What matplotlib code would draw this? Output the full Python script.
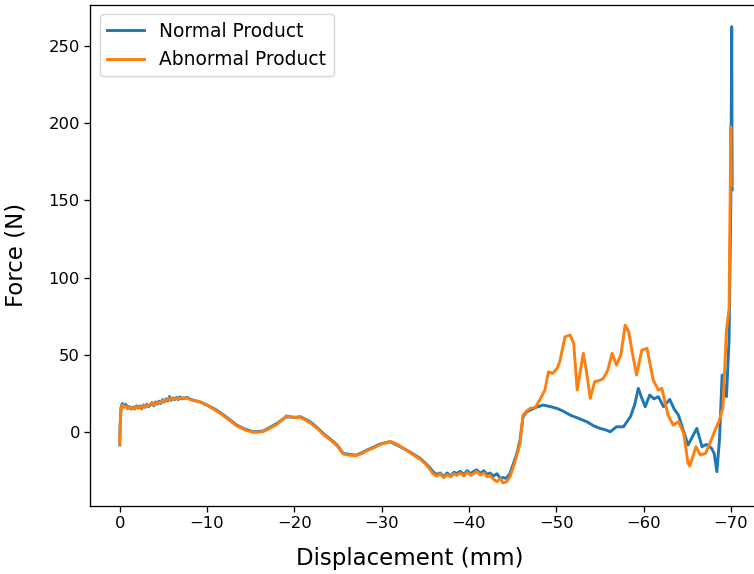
import matplotlib.pyplot as plt

# displacement (mm) / force (N)
normal_x = [0.0, -0.05, -0.15, -0.3, -0.5, -0.7, -0.9, -1.1, -1.3, -1.5, -1.7, -1.9, -2.1, -2.3,
            -2.5, -2.7, -2.9, -3.1, -3.3, -3.5, -3.7, -3.9, -4.1, -4.3, -4.5, -4.7, -4.9, -5.1,
            -5.3, -5.5, -5.7, -5.9, -6.1, -6.3, -6.5, -6.7, -6.9, -7.1, -7.3, -7.5, -7.7, -8.0,
            -8.4, -9.2, -10.0, -11.0, -11.9, -12.6,
            -13.4, -14.3, -15.3, -16.4, -17.2, -18.0, -19.1, -20.0, -20.7, -21.8, -22.6, -23.3,
            -24.1, -24.9, -25.6, -26.3, -27.1, -27.7, -28.3, -29.0, -29.8, -30.4, -31.0, -31.8,
            -32.5, -33.4, -34.4, -35.0, -35.5, -35.9, -36.3, -36.7, -37.1, -37.5, -37.9, -38.3,
            -38.6, -39.0, -39.4, -39.8, -40.2, -40.5, -40.9, -41.3, -41.7, -42.1, -42.4, -42.8,
            -43.2, -43.6, -43.9, -44.3, -44.7, -45.1, -45.5, -45.85, -46.2, -46.6, -47.0, -47.7,
            -48.5, -49.3, -50.1, -50.8, -51.6, -52.5, -53.5, -54.3, -55.0, -55.6, -56.2, -56.9,
            -57.7, -58.5, -59.0, -59.4, -59.8, -60.2, -60.7, -61.2, -61.7, -62.3, -63.0, -63.5,
            -64.0, -64.5, -65.1, -65.6, -66.1, -66.7, -67.2, -67.8, -68.1, -68.4, -68.7, -69.0,
            -69.5, -69.8, -70.0, -70.1, -70.15]
normal_y = [-8.4, 5.0, 16.0, 18.5, 16.5, 18.0, 15.5, 16.5, 14.8, 16.2, 15.0, 17.0, 15.5, 16.8,
            15.0, 17.5, 16.0, 18.0, 16.5, 17.5, 19.0, 17.0, 19.5, 18.0, 20.0, 18.5, 21.0, 19.5,
            21.5, 20.0, 23.0, 20.5, 22.0, 21.0, 22.5, 21.0, 22.8, 21.5, 22.2, 21.8, 22.5, 21.5,
            20.7, 19.5, 17.5, 14.5, 11.0, 8.0,
            4.5, 2.0, 0.2, 0.6, 3.0, 5.6, 9.9, 9.5, 9.9, 6.7, 3.0, -0.9,
            -4.5, -8.4, -13.8, -14.5, -14.9, -13.5, -11.7, -10.0, -7.8, -7.0, -6.3, -8.5,
            -10.6, -13.5, -17.0, -20.0, -23.0, -25.7, -27.5, -26.5, -28.9, -26.5, -28.5, -26.0,
            -26.8, -25.5, -27.5, -25.0, -27.0, -25.7, -24.5, -26.8, -25.0, -27.5, -26.5, -28.5,
            -27.0, -30.0, -29.5, -30.0, -26.8, -20.3, -13.8, -5.2, 9.9, 13.0, 14.2, 16.0,
            17.5, 16.5, 15.3, 13.5, 11.0, 9.0, 6.7, 4.0, 2.4, 1.5, 0.2, 3.4,
            3.4, 9.9, 18.0, 28.3, 22.0, 16.4, 24.0, 21.5, 22.9, 16.4, 21.2, 15.0,
            11.0, 2.0, -8.4, -3.0, 2.4, -9.5, -8.0, -10.6, -14.0, -25.7, -5.0, 36.9,
            22.9, 60.0, 150.0, 262.5, 157.0]

abnormal_x = [0.0, -0.05, -0.15, -0.3, -0.5, -0.7, -0.9, -1.1, -1.3, -1.5, -1.7, -1.9, -2.1, -2.3,
              -2.5, -2.7, -2.9, -3.1, -3.3, -3.5, -3.7, -3.9, -4.1, -4.3, -4.5, -4.7, -4.9, -5.1,
              -5.3, -5.5, -5.7, -5.9, -6.1, -6.3, -6.5, -6.7, -6.9, -7.1, -7.3, -7.5, -7.7, -8.0,
              -8.4, -9.2, -10.0, -11.0, -11.9, -12.6,
              -13.4, -14.3, -15.3, -16.4, -17.2, -18.0, -19.1, -20.0, -20.7, -21.8, -22.6, -23.3,
              -24.1, -24.9, -25.6, -26.3, -27.1, -27.7, -28.3, -29.0, -29.8, -30.4, -31.0, -31.8,
              -32.5, -33.4, -34.4, -35.0, -35.5, -35.9, -36.3, -36.7, -37.1, -37.5, -37.9, -38.3,
              -38.6, -39.0, -39.4, -39.8, -40.2, -40.5, -40.9, -41.3, -41.7, -42.1, -42.4, -42.8,
              -43.2, -43.6, -43.9, -44.3, -44.7, -45.1, -45.5, -45.85, -46.2, -46.6, -47.0, -47.6,
              -48.1, -48.7, -49.1, -49.6, -50.1, -50.4, -51.0, -51.6, -52.0, -52.4, -53.1, -53.5,
              -53.9, -54.4, -55.0, -55.4, -55.9, -56.4, -56.9, -57.4, -57.9, -58.3, -58.7, -59.2,
              -59.8, -60.4, -61.1, -61.7, -62.1, -62.8, -63.4, -64.0, -64.6, -65.1, -65.3, -66.0,
              -66.5, -67.1, -67.6, -68.2, -68.7, -69.1, -69.5, -69.8, -70.0, -70.05]
abnormal_y = [-8.0, 4.0, 15.0, 17.5, 16.0, 17.0, 15.0, 16.0, 15.2, 15.8, 14.8, 16.5, 15.8, 16.2,
              15.5, 17.0, 16.5, 17.5, 17.0, 18.0, 18.5, 17.5, 19.0, 18.5, 19.5, 19.0, 20.5, 20.0,
              21.0, 20.5, 22.0, 21.0, 21.5, 21.5, 22.0, 21.5, 22.0, 22.0, 21.8, 22.2, 22.0, 21.2,
              20.5, 19.5, 17.5, 14.0, 10.5, 7.5,
              4.0, 1.5, -0.2, 0.2, 2.5, 5.0, 10.5, 9.5, 9.5, 6.0, 2.5, -1.5,
              -5.0, -9.0, -14.2, -15.0, -15.2, -14.0, -12.0, -10.5, -8.2, -7.0, -6.0, -8.0,
              -10.5, -14.0, -17.5, -20.5, -24.0, -27.0, -28.5, -27.0, -29.5, -27.5, -29.0, -27.0,
              -28.0, -26.5, -28.5, -26.0, -28.0, -27.0, -25.5, -27.8, -26.5, -29.0, -28.0, -30.5,
              -32.2, -30.0, -33.0, -32.2, -29.0, -22.5, -15.0, -7.3, 11.0, 13.5, 15.3, 16.0,
              20.7, 27.2, 39.0, 38.0, 41.2, 45.5, 61.7, 62.8, 57.4, 27.2, 51.0, 38.0,
              21.8, 32.6, 33.5, 34.8, 40.0, 51.0, 43.4, 50.0, 69.3, 65.0, 52.0, 36.9,
              53.1, 54.2, 33.7, 27.2, 28.3, 11.0, 4.5, 6.7, -0.9, -20.3, -22.0, -9.5,
              -14.9, -13.8, -7.3, 1.3, 7.8, 16.4, 66.0, 80.0, 197.7, 160.0]


def main():
    fig = plt.figure(figsize=(7.54, 5.74), dpi=100)
    ax = fig.add_axes([0.12, 0.119, 0.8898, 0.8723])

    ax.plot(normal_x, normal_y, color='#1f77b4', lw=2.1, label='Normal Product')
    ax.plot(abnormal_x, abnormal_y, color='#ff7f0e', lw=2.1, label='Abnormal Product')

    ax.set_xlim(3.35, -73.5)
    ax.set_ylim(-47.7, 276.6)
    ax.set_xticks([0, -10, -20, -30, -40, -50, -60, -70])
    ax.set_yticks([0, 50, 100, 150, 200, 250])

    ax.set_xlabel('Displacement (mm)', fontsize=16.5)
    ax.set_ylabel('Force (N)', fontsize=16.5)
    ax.xaxis.set_label_coords(0.476, -0.083)
    ax.yaxis.set_label_coords(-0.094, 0.5)
    ax.tick_params(labelsize=11.8, width=0.94, length=4.1)
    for sp in ax.spines.values():
        sp.set_linewidth(0.94)

    ax.legend(loc='upper left', fontsize=13.4)

    fig.savefig('out.png')


if __name__ == '__main__':
    main()
